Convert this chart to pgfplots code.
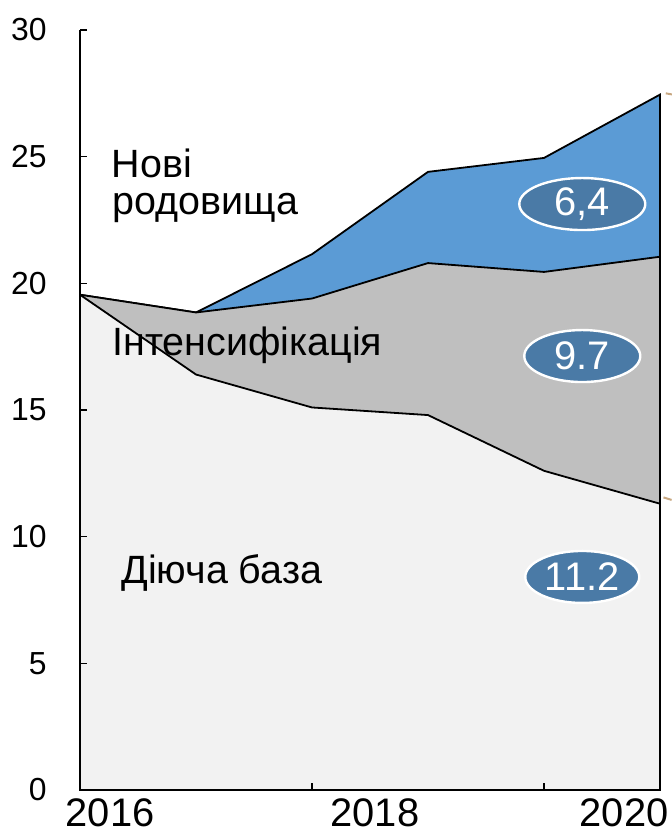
\documentclass[border=0pt]{standalone}
\usepackage{fontspec}
\setmainfont{Liberation Sans}
\usepackage{pgfplots}
\pgfplotsset{compat=1.18}
\usetikzlibrary{shapes.geometric}
\definecolor{basefill}{HTML}{F2F2F2}
\definecolor{intfill}{HTML}{BFBFBF}
\definecolor{newfill}{HTML}{5B9BD5}
\definecolor{tagfill}{HTML}{4A7AA6}
\definecolor{leader}{HTML}{C8A882}

\begin{document}
\begin{tikzpicture}
\useasboundingbox (-40bp,-23.5bp) rectangle (296bp,395bp);
\begin{axis}[scale only axis, width=290bp, height=380bp,
  xmin=0, xmax=5, ymin=0, ymax=30,
  axis x line*=bottom, axis y line*=left,
  ytick={0,5,...,30}, xtick={2,4}, xticklabels={},
  tick align=inside, major tick length=3.5bp,
  tick style={black, line width=0.7bp},
  axis line style={black, line width=0.9bp},
  /pgf/number format/assume math mode=true,
  yticklabel style={font=\fontsize{16}{16}\selectfont, anchor=east, inner sep=0pt, xshift=-16.5bp},
  axis on top, clip=false]

% Нові родовища (top of stack)
\addplot[fill=newfill, draw=black, line width=0.9bp] coordinates {
  (0,19.55) (1,18.85) (2,21.15) (3,24.4) (4,24.95) (5,27.45)} \closedcycle;
% Інтенсифікація
\addplot[fill=intfill, draw=black, line width=0.9bp] coordinates {
  (0,19.55) (1,18.85) (2,19.4) (3,20.8) (4,20.45) (5,21.05)} \closedcycle;
% Діюча база
\addplot[fill=basefill, draw=black, line width=0.9bp] coordinates {
  (0,19.55) (1,16.4) (2,15.1) (3,14.8) (4,12.6) (5,11.3)} \closedcycle;

\draw[leader, line width=1bp] (axis cs:5.05,27.5) -- (axis cs:5.11,27.45);
\draw[leader, line width=1bp] (axis cs:5.03,11.55) -- (axis cs:5.1,11.45);

\tikzset{lbl/.style={anchor=base west, inner sep=0pt, font=\fontsize{19.8}{19.8}\selectfont},
  tag/.style={ellipse, fill=tagfill, draw=white, line width=1.2bp, minimum width=60bp,
    minimum height=26bp, inner sep=0pt, text=white, font=\fontsize{20}{20}\selectfont}}
\node[lbl] at (axis cs:0.27,24.16) {Нові};
\node[lbl] at (axis cs:0.28,22.70) {родовища};
\node[lbl] at (axis cs:0.276,17.17) {Інтенсифікація};
\node[lbl] at (axis cs:0.353,8.17) {Діюча база};

\node[tag, minimum width=63bp] at (axis cs:4.33,23.13) {6,4};
\node[tag, minimum width=58bp] at (axis cs:4.33,17.13) {9.7};
\node[tag, minimum width=57bp] at (axis cs:4.33,8.41) {11.2};

\tikzset{xl/.style={anchor=north, inner sep=0pt, yshift=-4bp, font=\fontsize{20}{20}\selectfont}}
\node[xl] at (axis cs:0.259,0) {2016};
\node[xl] at (axis cs:2.543,0) {2018};
\node[xl] at (axis cs:4.69,0) {2020};
\end{axis}
\end{tikzpicture}
\end{document}
